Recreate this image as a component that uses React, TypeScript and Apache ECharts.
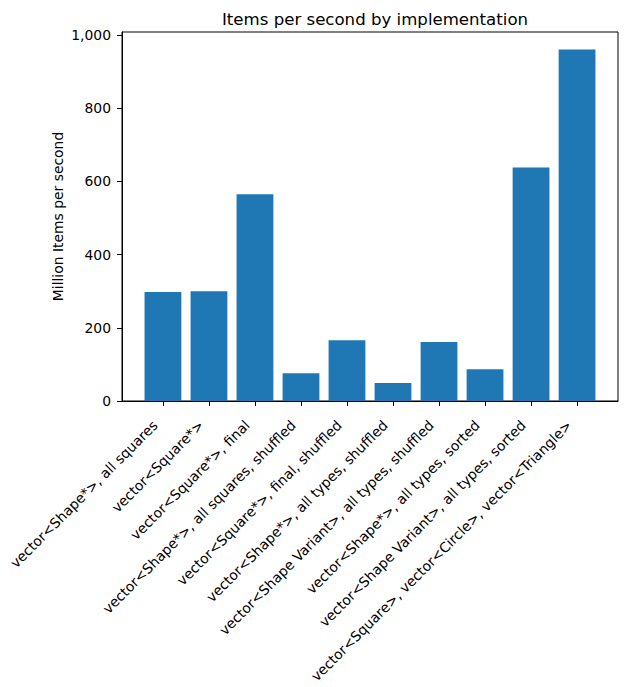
import React, { useEffect, useRef } from "react";
import * as echarts from "echarts";

const categories = [
  "vector<Shape*>, all squares",
  "vector<Square*>",
  "vector<Square*>, final",
  "vector<Shape*>, all squares, shuffled",
  "vector<Square*>, final, shuffled",
  "vector<Shape*>, all types, shuffled",
  "vector<Shape Variant>, all types, shuffled",
  "vector<Shape*>, all types, sorted",
  "vector<Shape Variant>, all types, sorted",
  "vector<Square>, vector<Circle>, vector<Triangle>",
];
const values = [298, 300, 565, 76, 166, 49, 161, 87, 638, 960];
const yTicks = [0, 200, 400, 600, 800, 1000];
const xTicks = categories.map((_, i) => i);

const FONT = "DejaVu Sans";

export default function App() {
  const ref = useRef<HTMLDivElement>(null);
  useEffect(() => {
    document.body.style.margin = "0";
    const chart = echarts.init(ref.current!, null, { renderer: "svg" });
    const n = categories.length;
    const pad = 0.05 * (n - 1 + 0.8);
    const yMax = Math.max(...values) * 1.05;
    chart.setOption({
      animation: false,
      backgroundColor: "#fff",
      title: {
        text: "Items per second by implementation",
        left: 370,
        textAlign: "center",
        top: 6,
        textStyle: { fontFamily: FONT, fontSize: 16.6, fontWeight: "normal", color: "#000" },
      },
      grid: {
        left: 122,
        right: 9,
        top: 32,
        bottom: 286,
        show: true,
        borderColor: "#000",
        borderWidth: 1,
        backgroundColor: "transparent",
      },
      xAxis: {
        type: "value",
        min: -0.4 - pad,
        max: n - 1 + 0.4 + pad,
        splitLine: { show: false },
        axisLine: { show: true, onZero: false, lineStyle: { color: "#000", width: 1 } },
        axisTick: { show: true, length: 4.9, lineStyle: { color: "#000" }, customValues: xTicks },
        axisLabel: {
          customValues: xTicks,
          rotate: 45,
          margin: 14,
          padding: [0, 11, 0, 0],
          color: "#000",
          fontFamily: FONT,
          fontSize: 13.9,
          formatter: (v: number) => categories[Math.round(v)] ?? "",
        },
      },
      yAxis: {
        type: "value",
        min: 0,
        max: yMax,
        name: "Million Items per second",
        nameLocation: "middle",
        nameGap: 57,
        nameMoveOverlap: false,
        nameTextStyle: { fontFamily: FONT, fontSize: 13.9, color: "#000" },
        splitLine: { show: false },
        axisLine: { show: true, onZero: false, lineStyle: { color: "#000", width: 1 } },
        axisTick: { show: true, length: 4.9, lineStyle: { color: "#000" }, customValues: yTicks },
        axisLabel: {
          customValues: yTicks,
          margin: 11,
          color: "#000",
          fontFamily: FONT,
          fontSize: 13.9,
          formatter: (v: number) => v.toLocaleString("en-US"),
        },
      },
      series: [
        {
          type: "bar",
          data: values.map((v, i) => [i, v]),
          barWidth: 36.8,
          itemStyle: { color: "#1f77b4" },
        },
      ],
    });
    return () => chart.dispose();
  }, []);
  return <div ref={ref} style={{ position: "fixed", left: 0, top: 0, width: 627, height: 687 }} />;
}
